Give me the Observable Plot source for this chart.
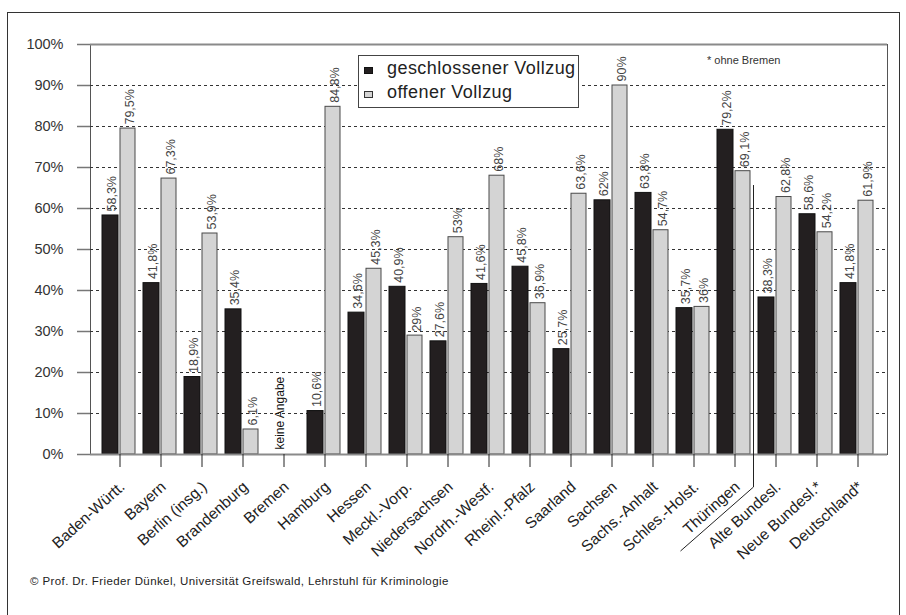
<!DOCTYPE html>
<html>
<head>
<meta charset="utf-8">
<script src="https://cdn.jsdelivr.net/npm/d3@7"></script>
<script src="https://cdn.jsdelivr.net/npm/@observablehq/plot@0.6"></script>
<style>
  html, body { margin: 0; padding: 0; background: #fff; }
  #page { position: relative; width: 906px; height: 615px; overflow: hidden; font-family: "Liberation Sans", Arial, sans-serif; }
  #frame { position: absolute; left: 7px; top: 12px; width: 893px; height: 610px; border: 1.5px solid #333; box-sizing: border-box; }
  #chart { position: absolute; left: 0; top: 0; }
  #legend { position: absolute; left: 358px; top: 55px; width: 221px; height: 53px; border: 1px solid #444; background: #fff; box-sizing: border-box; }
  .lg-item { position: absolute; left: 0; font-size: 18px; letter-spacing: 0.45px; color: #222; white-space: nowrap; }
  .lg-sw { position: absolute; left: 5px; width: 9px; height: 7px; box-sizing: border-box; }
  .lg-tx { position: absolute; left: 28px; }
  #note { position: absolute; left: 707px; top: 54px; font-size: 11px; color: #333; }
  #caption { position: absolute; left: 30px; top: 575px; font-size: 11.5px; letter-spacing: 0.4px; color: #222; }
</style>
</head>
<body>
<div id="page">
  <div id="frame"></div>
  <div id="chart"></div>
  <div id="legend"></div>
  <div id="note"></div>
  <div id="caption"></div>
</div>
<script>
const categories = ["Baden-Württ.", "Bayern", "Berlin (insg.)", "Brandenburg", "Bremen", "Hamburg", "Hessen", "Meckl.-Vorp.", "Niedersachsen", "Nordrh.-Westf.", "Rheinl.-Pfalz", "Saarland", "Sachsen", "Sachs.-Anhalt", "Schles.-Holst.", "Thüringen", "Alte Bundesl.", "Neue Bundesl.*", "Deutschland*"];
const geschlossen = [58.3, 41.8, 18.9, 35.4, null, 10.6, 34.6, 40.9, 27.6, 41.6, 45.8, 25.7, 62, 63.8, 35.7, 79.2, 38.3, 58.6, 41.8];
const offen = [79.5, 67.3, 53.9, 6.1, null, 84.8, 45.3, 29, 53, 68, 36.9, 63.6, 90, 54.7, 36, 69.1, 62.8, 54.2, 61.9];
const seriesNames = ["geschlossener Vollzug", "offener Vollzug"];
const seriesColors = ["#231f20", "#d4d4d4"];
const yTicks = [0, 10, 20, 30, 40, 50, 60, 70, 80, 90, 100];
const noDataCategory = "Bremen";
const noDataText = "keine Angabe";
const noteText = "* ohne Bremen";
const captionText = "© Prof. Dr. Frieder Dünkel, Universität Greifswald, Lehrstuhl für Kriminologie";
const separatorCategory = "Alte Bundesl.";
const separatorTop = 65.6;

const closedRows = categories.map((c, i) => ({category: c, value: geschlossen[i]})).filter(d => d.value != null);
const openRows = categories.map((c, i) => ({category: c, value: offen[i]})).filter(d => d.value != null);
const labelRows = categories.map(c => ({category: c, value: 0}));
const fmt = d => String(d.value).replace(".", ",") + "%";

const plot = Plot.plot({
  width: 906,
  height: 560,
  marginLeft: 90,
  marginRight: 19,
  marginTop: 44,
  marginBottom: 106,
  style: {fontFamily: "Liberation Sans, Arial, sans-serif", background: "transparent", color: "#222"},
  x: {domain: categories, padding: 0, label: null},
  y: {domain: [0, 100], label: null},
  marks: [
    Plot.frame({stroke: "#555"}),
    Plot.ruleY(yTicks.filter(d => d > 0 && d < 100), {stroke: "#333", strokeDasharray: "3,3", strokeWidth: 1}),
    Plot.barY(closedRows, {x: "category", y: "value", fill: seriesColors[0], stroke: "#111", strokeWidth: 1, insetLeft: 3, insetRight: 22}),
    Plot.barY(openRows, {x: "category", y: "value", fill: seriesColors[1], stroke: "#4a4a4a", strokeWidth: 1, insetLeft: 21, insetRight: 5}),
    Plot.ruleY([0, 100], {stroke: "#8a8a8a", strokeWidth: 2}),
    Plot.axisY({ticks: yTicks, tickSize: 13, tickPadding: 14, tickFormat: d => d + "%", fontSize: 14.5, stroke: "#777", strokeWidth: 1.5, fill: "#333", label: null}),
    Plot.axisX({tickSize: 13, text: null, stroke: "#222", label: null}),
    Plot.text(labelRows, {x: "category", y: "value", text: "category", rotate: -42, textAnchor: "end", lineAnchor: "middle", dx: 2.5, dy: 30, fontSize: 15.5, fill: "#222"}),
    Plot.text(closedRows, {x: "category", y: "value", text: fmt, rotate: -90, textAnchor: "start", dx: -8, dy: -4, fontSize: 12.5, fill: "#444"}),
    Plot.text(openRows, {x: "category", y: "value", text: fmt, rotate: -90, textAnchor: "start", dx: 10, dy: -4, fontSize: 12.5, fill: "#444"}),
    Plot.text([{category: noDataCategory, value: 0}], {x: "category", y: "value", text: () => noDataText, rotate: -90, textAnchor: "start", dx: -4, dy: -5, fontSize: 12, fill: "#111"})
  ]
});
document.getElementById("chart").appendChild(plot);

// separator between Länder and aggregates, positioned with the plot's scales
const xs = plot.scale("x"), ys = plot.scale("y");
const sx = xs.apply(separatorCategory) - 1.5;
const y0 = ys.apply(0);
const yTop = ys.apply(separatorTop);
d3.select(plot).append("path")
  .attr("d", `M${sx},${yTop}V${y0 + 33}L${sx - 73},${y0 + 97}`)
  .attr("fill", "none").attr("stroke", "#222").attr("stroke-width", 1);

// legend
const lg = document.getElementById("legend");
seriesNames.forEach((name, i) => {
  const item = document.createElement("div");
  item.className = "lg-item";
  item.style.top = (i === 0 ? 2 : 26) + "px";
  const sw = document.createElement("div");
  sw.className = "lg-sw";
  sw.style.top = "9px";
  sw.style.background = seriesColors[i];
  sw.style.border = "1px solid " + (i === 0 ? "#111" : "#333");
  const tx = document.createElement("span");
  tx.className = "lg-tx";
  tx.textContent = name;
  item.appendChild(sw); item.appendChild(tx);
  lg.appendChild(item);
});
document.getElementById("note").textContent = noteText;
document.getElementById("caption").textContent = captionText;
</script>
</body>
</html>
